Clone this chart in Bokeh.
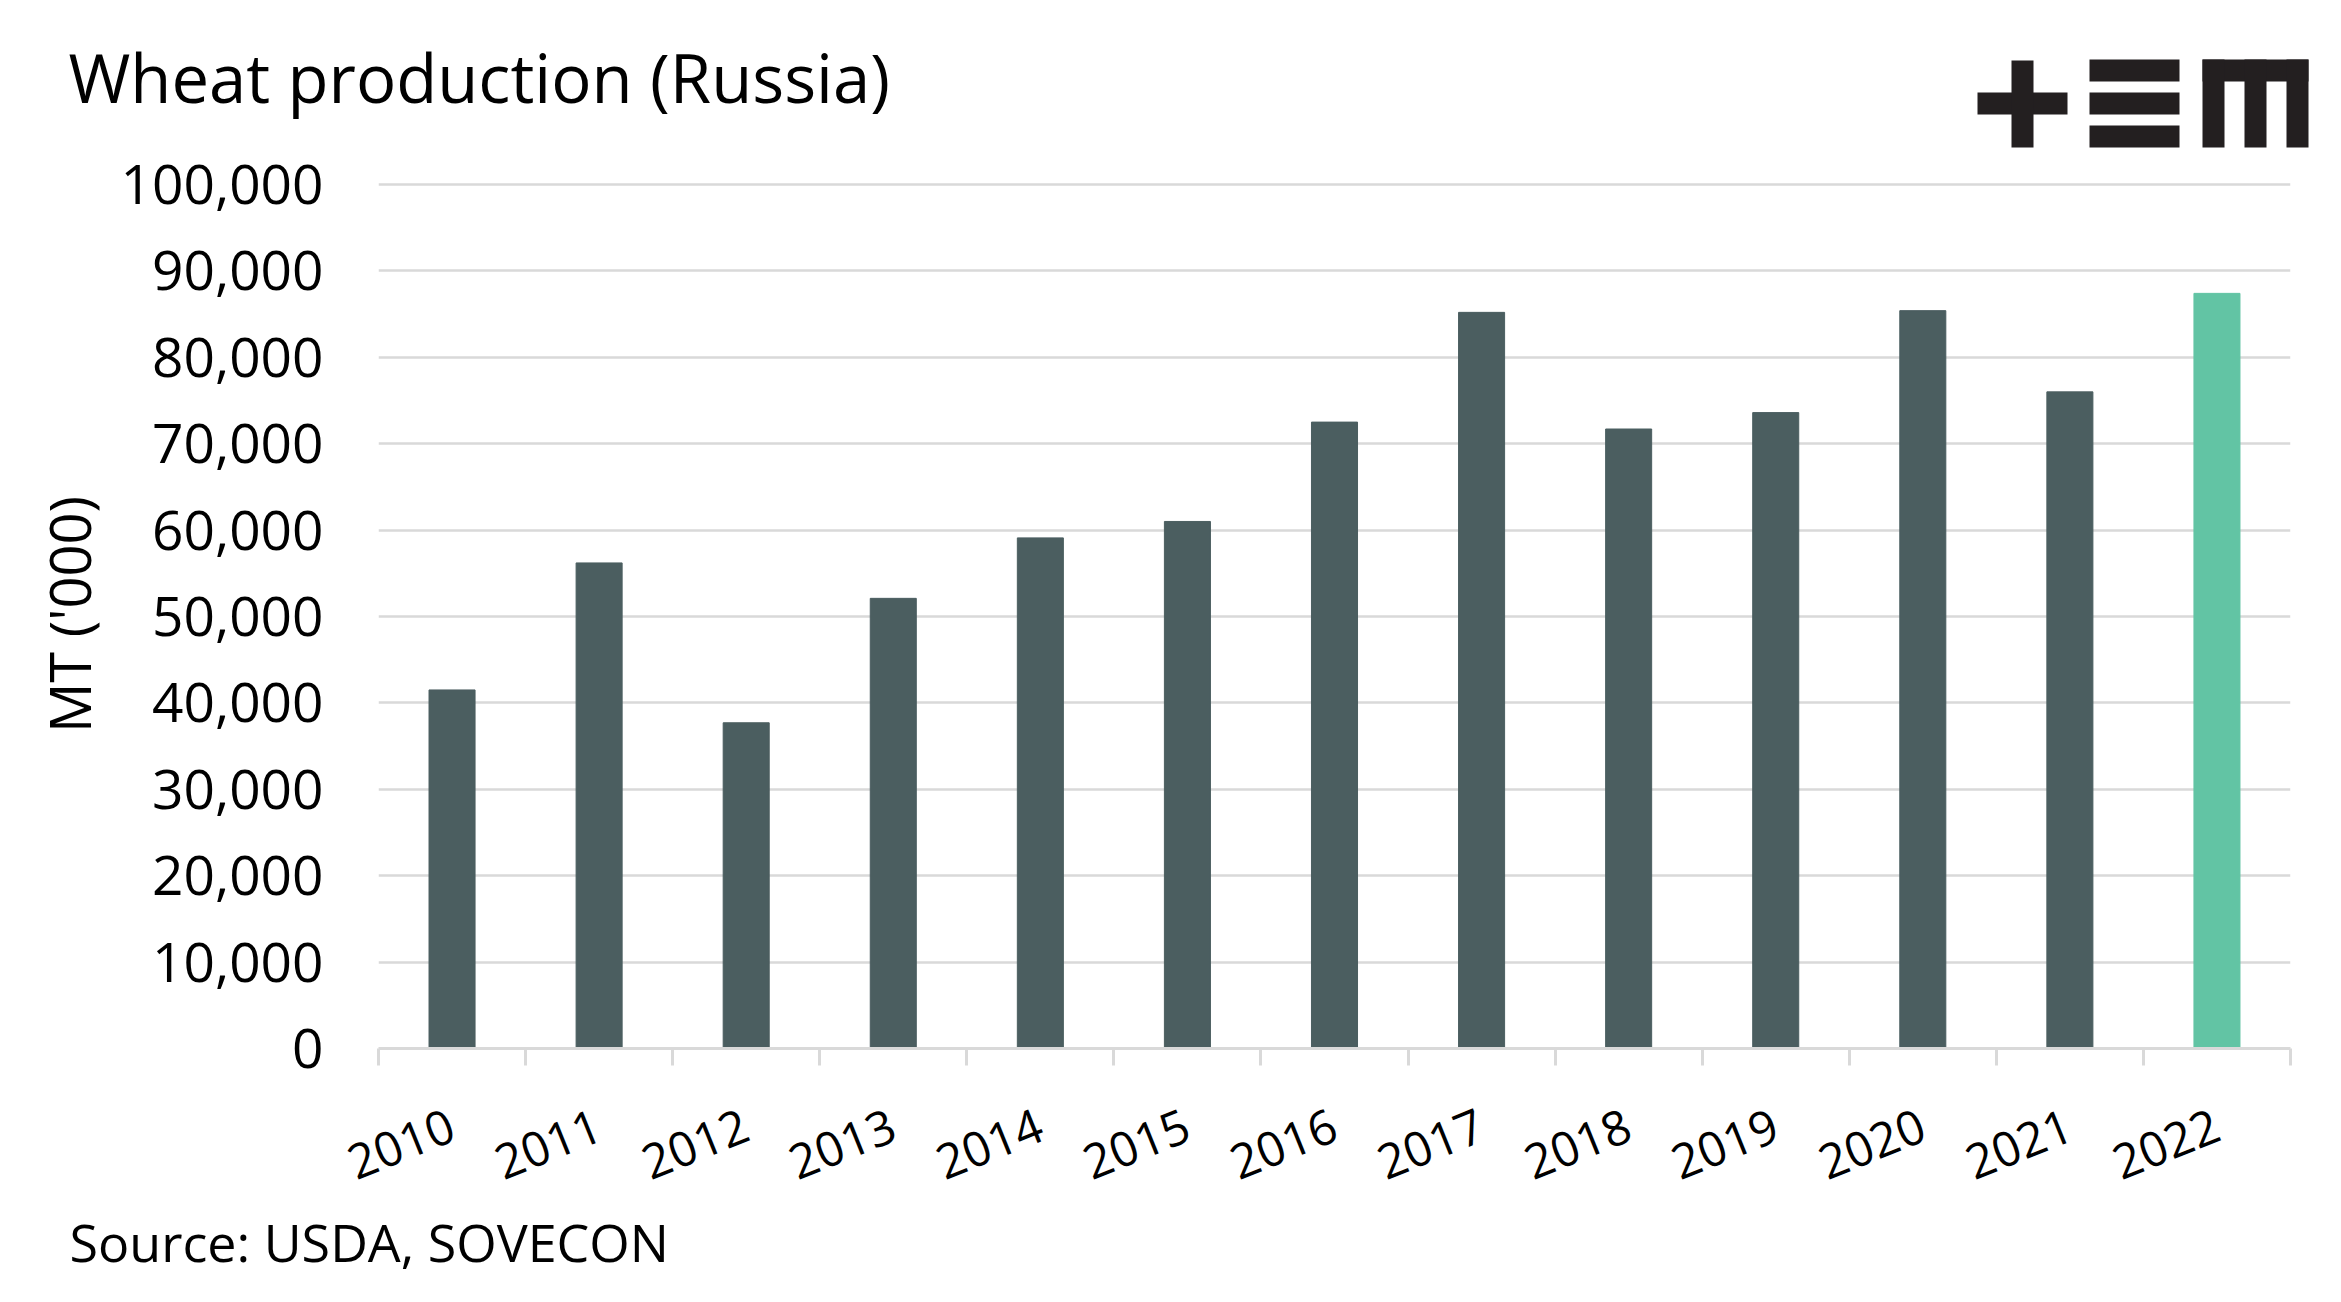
import math
from bokeh.plotting import figure
from bokeh.layouts import row
from bokeh.models import (FixedTicker, NumeralTickFormatter, ColumnDataSource, Range1d, GridBox)
from bokeh.core.properties import value
from bokeh.embed import file_html
from bokeh.resources import INLINE

# ---- data ----
years = ["2010", "2011", "2012", "2013", "2014", "2015", "2016",
         "2017", "2018", "2019", "2020", "2021", "2022"]
production = [41500, 56200, 37700, 52100, 59100, 61000, 72500,
              85200, 71700, 73600, 85400, 76000, 87400]
y_ticks = [0, 10000, 20000, 30000, 40000, 50000, 60000, 70000, 80000, 90000, 100000]
title_text = "Wheat production (Russia)"
source_text = "Source: USDA, SOVECON"
y_label = "MT ('000)"

DARK = "#4B5E60"
GREEN = "#62C4A4"
GRID = "#D9D9D9"
INK = "#231F20"
FONT = "Open Sans"
W = 2341

bar_colors = [DARK] * (len(years) - 1) + [GREEN]
xs = list(range(len(years)))
src = ColumnDataSource(dict(x=xs, year=years, value=production, color=bar_colors))


def blank(height, transparent=False):
    f = figure(width=W, height=height, output_backend="svg", toolbar_location=None,
               x_range=Range1d(0, W), y_range=Range1d(height, 0),
               x_axis_location=None, y_axis_location=None, min_border=0)
    f.grid.visible = False
    f.outline_line_color = None
    if transparent:
        f.background_fill_color = None
        f.border_fill_color = None
    return f


# ---- header overlay: title + logo ----
HEAD_H = 150
header = blank(HEAD_H, transparent=True)
header.text(x=[68], y=[76], text=[title_text], text_font=value(FONT),
            text_font_size="67px", text_color="black", text_baseline="alphabetic")
logo_left = [1977, 2011, 2089, 2089, 2089, 2202, 2202, 2244, 2286]
logo_right = [2067, 2033, 2179, 2179, 2179, 2308, 2224, 2266, 2308]
logo_top = [92, 60, 59, 92, 125, 59, 59, 59, 59]
logo_bottom = [114, 147, 81, 114, 147, 81, 147, 147, 147]
header.quad(left=logo_left, right=logo_right, top=logo_top, bottom=logo_bottom,
            fill_color=INK, line_color=None)

# ---- main chart (starts at the page top; header is overlaid) ----
MAIN_H = 1200
FRAME_TOP = 180
frame_h = 1048 - FRAME_TOP
y_end = y_ticks[-1] * frame_h / 864.0
p = figure(width=W, height=MAIN_H, output_backend="svg", toolbar_location=None,
           x_range=Range1d(-0.5, len(years) - 0.5), y_range=Range1d(0, y_end),
           min_border_left=378, min_border_right=W - 2290, min_border_top=FRAME_TOP,
           min_border_bottom=MAIN_H - 1048)
p.outline_line_color = None

p.vbar(x="x", top="value", width=0.313, color="color", source=src)

xa = p.xaxis[0]
xa.ticker = FixedTicker(ticks=xs, minor_ticks=[i - 0.5 for i in range(len(years) + 1)])
xa.major_label_overrides = {i: y for i, y in enumerate(years)}
xa.major_label_orientation = math.radians(22)
xa.major_tick_line_color = None
xa.major_tick_out = 0
xa.major_tick_in = 0
xa.minor_tick_line_color = GRID
xa.minor_tick_line_width = 3
xa.minor_tick_out = 17
xa.minor_tick_in = 0
xa.axis_line_color = GRID
xa.axis_line_width = 3
xa.major_label_text_font = FONT
xa.major_label_text_font_size = "48px"
xa.major_label_text_color = "black"
xa.major_label_standoff = 58

ya = p.yaxis[0]
ya.ticker = FixedTicker(ticks=y_ticks)
ya.formatter = NumeralTickFormatter(format="0,0")
ya.axis_line_color = None
ya.major_tick_line_color = None
ya.minor_tick_line_color = None
ya.major_tick_out = 0
ya.major_tick_in = 0
ya.major_label_standoff = 55
ya.major_label_text_font = FONT
ya.major_label_text_font_size = "55px"
ya.major_label_text_color = "black"
ya.axis_label = y_label
ya.axis_label_text_font = FONT
ya.axis_label_text_font_size = "56px"
ya.axis_label_text_font_style = "normal"
ya.axis_label_text_color = "black"
ya.axis_label_standoff = 11

p.xgrid.grid_line_color = None
p.ygrid.grid_line_color = GRID
p.ygrid.grid_line_width = 2.5

# ---- footer: source ----
FOOT_H = 1302 - MAIN_H
footer = blank(FOOT_H)
footer.text(x=[69], y=[1241 - MAIN_H], text=[source_text], text_font=value(FONT),
            text_font_size="52px", text_color="black", text_baseline="alphabetic")

layout = GridBox(children=[(row(p), 0, 0), (row(header), 0, 0), (row(footer), 1, 0)], spacing=0)
open("out.html", "w").write(file_html(layout, INLINE))
